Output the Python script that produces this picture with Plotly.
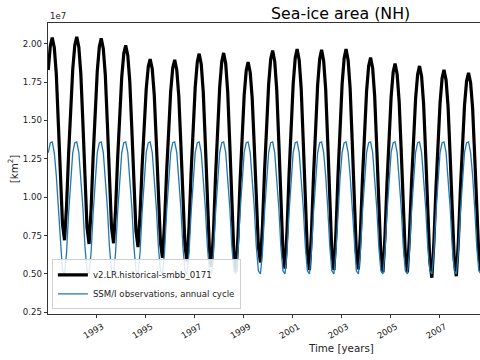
import numpy as np
import pandas as pd
import plotly.graph_objects as go

# Monthly model sea-ice area (units of 1e7 km^2), Jan..Dec for each year 1991-2008
model_area = [
    1.829, 1.987, 2.040, 1.974, 1.802, 1.486, 1.116, 0.826, 0.720, 0.945, 1.290, 1.595,  # 1991
    1.833, 1.992, 2.045, 1.978, 1.802, 1.478, 1.100, 0.803, 0.695, 0.923, 1.271, 1.579,  # 1992
    1.821, 1.981, 2.035, 1.968, 1.795, 1.474, 1.100, 0.807, 0.700, 0.919, 1.255, 1.551,  # 1993
    1.784, 1.938, 1.990, 1.924, 1.753, 1.438, 1.070, 0.780, 0.675, 0.883, 1.202, 1.484,  # 1994
    1.704, 1.851, 1.900, 1.835, 1.667, 1.356, 0.994, 0.709, 0.605, 0.824, 1.160, 1.456,  # 1995
    1.689, 1.843, 1.895, 1.829, 1.658, 1.343, 0.975, 0.685, 0.580, 0.810, 1.163, 1.474,  # 1996
    1.718, 1.881, 1.935, 1.866, 1.685, 1.351, 0.962, 0.656, 0.545, 0.782, 1.145, 1.466,  # 1997
    1.717, 1.884, 1.940, 1.869, 1.684, 1.342, 0.943, 0.629, 0.515, 0.747, 1.102, 1.416,  # 1998
    1.662, 1.825, 1.880, 1.815, 1.645, 1.332, 0.967, 0.679, 0.575, 0.810, 1.168, 1.486,  # 1999
    1.734, 1.900, 1.955, 1.884, 1.699, 1.359, 0.961, 0.649, 0.535, 0.778, 1.150, 1.479,  # 2000
    1.736, 1.908, 1.965, 1.893, 1.706, 1.360, 0.957, 0.640, 0.525, 0.769, 1.142, 1.472,  # 2001
    1.730, 1.903, 1.960, 1.888, 1.702, 1.357, 0.956, 0.640, 0.525, 0.770, 1.144, 1.475,  # 2002
    1.735, 1.907, 1.965, 1.893, 1.707, 1.362, 0.961, 0.645, 0.530, 0.765, 1.123, 1.441,  # 2003
    1.689, 1.855, 1.910, 1.840, 1.658, 1.322, 0.930, 0.622, 0.510, 0.741, 1.095, 1.408,  # 2004
    1.652, 1.816, 1.870, 1.802, 1.625, 1.299, 0.918, 0.619, 0.510, 0.739, 1.088, 1.398,  # 2005
    1.640, 1.801, 1.855, 1.786, 1.607, 1.275, 0.889, 0.585, 0.475, 0.705, 1.058, 1.369,  # 2006
    1.613, 1.776, 1.830, 1.763, 1.588, 1.265, 0.889, 0.593, 0.485, 0.710, 1.055, 1.360,  # 2007
    1.598, 1.757, 1.810, 1.746, 1.578, 1.268, 0.907, 0.623, 0.520, 0.740, 1.080, 1.380,  # 2008
]

# SSM/I observed annual cycle (units of 1e7 km^2), Jan..Dec
obs_cycle = [1.29, 1.355, 1.36, 1.29, 1.14, 0.93, 0.68, 0.52, 0.50, 0.64, 0.90, 1.12]

start_month = "1991-01-01"
n_years = 18

y_tickvals = [0.25, 0.50, 0.75, 1.00, 1.25, 1.50, 1.75, 2.00]
x_tick_years = [1993, 1995, 1997, 1999, 2001, 2003, 2005, 2007, 2009]

time = pd.date_range(start_month, periods=12 * n_years, freq="MS") + pd.Timedelta(days=14)
obs_series = np.tile(obs_cycle, n_years)

fig = go.Figure()
fig.add_trace(go.Scatter(
    x=time, y=model_area, mode="lines", name="v2.LR.historical-smbb_0171",
    line=dict(color="black", width=3.2),
))
fig.add_trace(go.Scatter(
    x=time, y=obs_series, mode="lines", name="SSM/I observations, annual cycle",
    line=dict(color="#1f77b4", width=1.3),
))

font_family = "DejaVu Sans"
fig.update_layout(
    width=480, height=360,
    margin=dict(l=48, r=0, t=23, b=46, autoexpand=False),
    paper_bgcolor="white", plot_bgcolor="white",
    font=dict(family=font_family, size=8.6, color="#222"),
    showlegend=True,
    legend=dict(
        x=0.009, y=0.016, xanchor="left", yanchor="bottom",
        bgcolor="rgba(255,255,255,0.85)", bordercolor="#d0d0d0", borderwidth=1,
        font=dict(size=8.6, color="#222"),
        tracegroupgap=0, itemwidth=30,
    ),
    xaxis=dict(
        range=["1991-01-11", "2008-09-02"],
        tickvals=[f"{y}-01-01" for y in x_tick_years],
        ticktext=[str(y) for y in x_tick_years],
        tickangle=-30, automargin=False, ticklabelshift=6,
        ticks="outside", ticklen=3.5, tickcolor="#333", tickwidth=0.8,
        showline=True, linecolor="#333", linewidth=0.8, mirror=True,
        showgrid=False, zeroline=False,
        tickfont=dict(size=8.6),
    ),
    yaxis=dict(
        range=[0.239, 2.135], automargin=False,
        tickvals=y_tickvals,
        ticktext=[f"{v:.2f}" for v in y_tickvals],
        ticks="outside", ticklen=3.5, tickcolor="#333", tickwidth=0.8,
        showline=True, linecolor="#333", linewidth=0.8, mirror=False,
        showgrid=False, zeroline=False,
        tickfont=dict(size=8.6),
    ),
    annotations=[
        dict(text="Sea-ice area (NH)", xref="paper", yref="paper", x=0.678, y=1.0326,
             xanchor="center", yanchor="middle", showarrow=False,
             font=dict(size=15.8, color="black")),
        dict(text="Time [years]", xref="paper", yref="paper", x=0.678, y=-0.117,
             xanchor="center", yanchor="middle", showarrow=False,
             font=dict(size=10.3, color="#222")),
        dict(text="[km<sup>2</sup>]", xref="paper", yref="paper", x=-0.0814, y=0.5,
             xanchor="center", yanchor="middle", textangle=-90, showarrow=False,
             font=dict(size=10.3, color="#222")),
        dict(text="1e7", xref="paper", yref="paper", x=0.0, y=1.0,
             xanchor="left", yanchor="bottom", showarrow=False,
             font=dict(size=8.6, color="#222")),
    ],
)

fig.write_html("out.html", config={"displayModeBar": False},
               post_script="document.body.style.margin='0';")
